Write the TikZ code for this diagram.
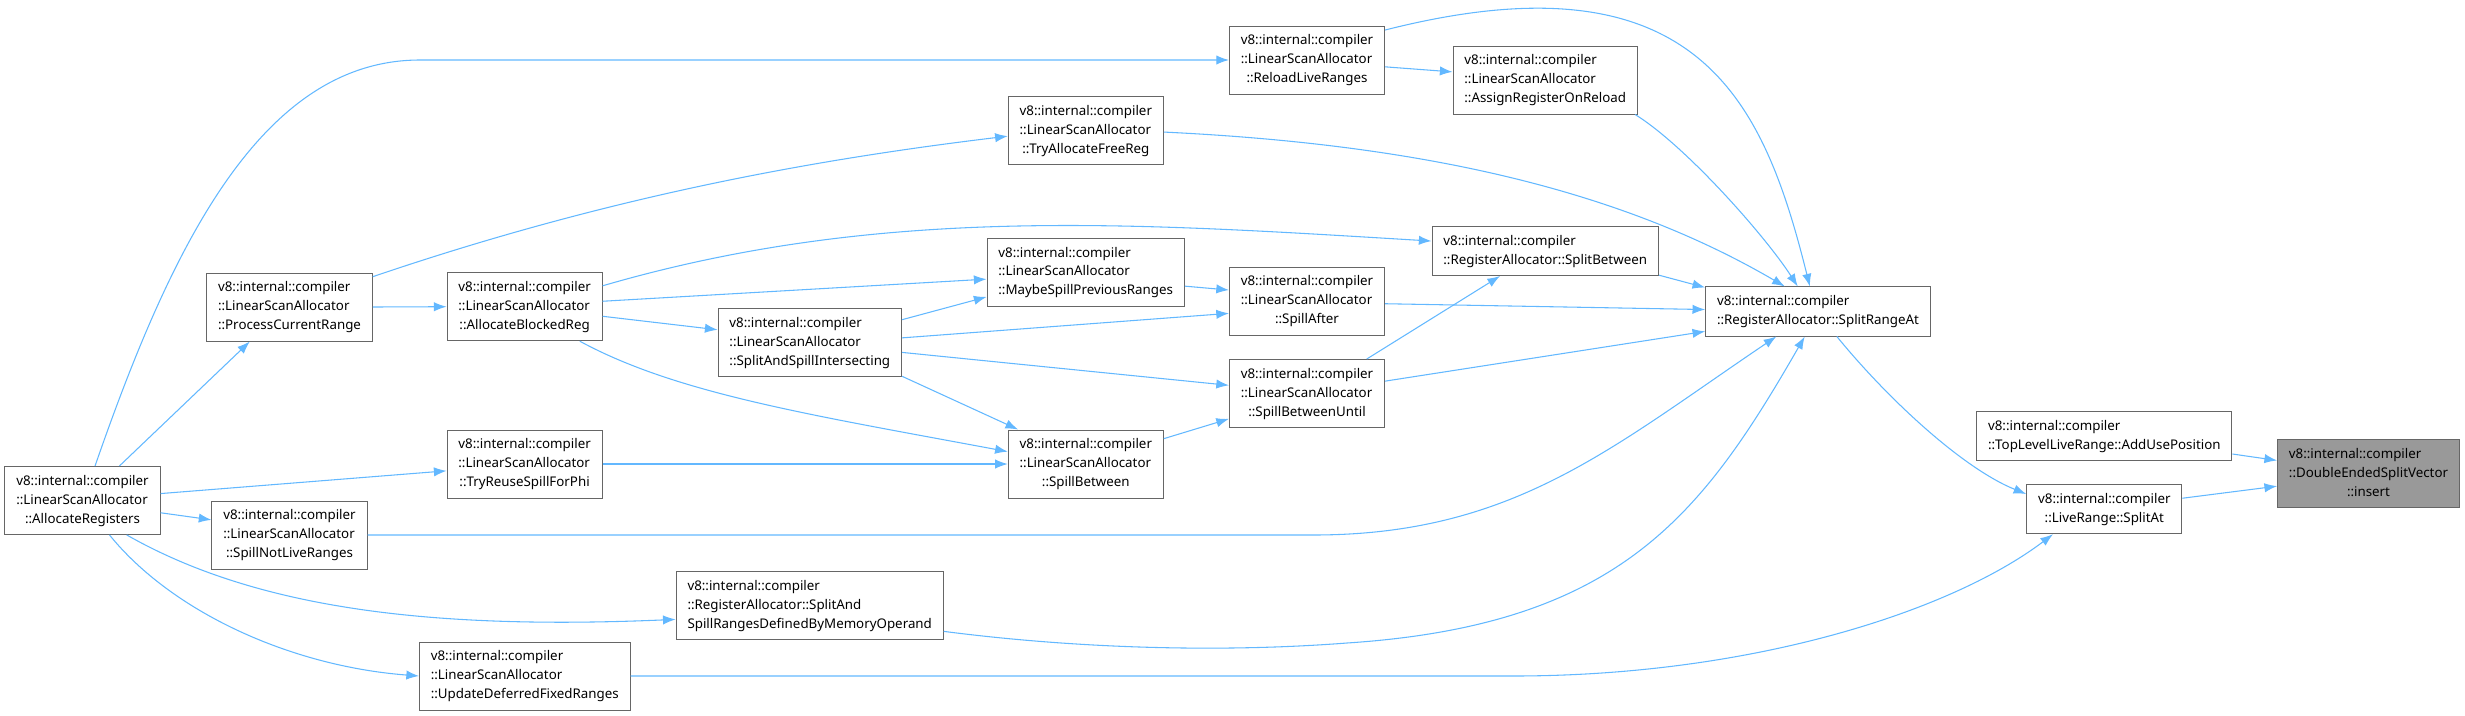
\documentclass[tikz,border=0pt]{standalone}
\usepackage{fontspec}
\setmainfont{Noto Sans}
\usetikzlibrary{arrows.meta}

\definecolor{edgeblue}{HTML}{63B8FF}
\definecolor{boxgray}{HTML}{666666}
\definecolor{focusgray}{HTML}{999999}

% label lines: all but the last one left aligned, the last one centred
\newcommand{\fnthree}[3]{\begin{tabular}{@{}l@{}}#1\\#2\\\multicolumn{1}{@{}c@{}}{#3}\end{tabular}}
\newcommand{\fntwo}[2]{\begin{tabular}{@{}l@{}}#1\\\multicolumn{1}{@{}c@{}}{#2}\end{tabular}}
\newcommand{\lsa}[1]{\fnthree{v8::internal::compiler}{::LinearScanAllocator}{#1}}

\tikzset{
    fn/.style    = {draw=boxgray, line width=0.75pt, fill=white, inner xsep=8.5pt, inner ysep=4.2pt,
                    font=\fontsize{10}{14.2}\selectfont},
    focus/.style = {fn, fill=focusgray},
    call/.style  = {-{Latex[length=9.5pt,width=7pt]}, line width=0.8pt, draw=edgeblue}
}

\begin{document}
\begin{tikzpicture}[x=0.75pt,y=-0.75pt]

    \useasboundingbox (0,0) rectangle (2465,715);

    % =================================================
    % 1. Functions
    % =================================================
    \node[fn] (AllocRegs)    at (82.5,500.4)  {\lsa{::AllocateRegisters}};
    \node[fn] (ProcRange)    at (289.5,307)   {\lsa{::ProcessCurrentRange}};
    \node[fn] (SpillNotLive) at (289.5,535)   {\lsa{::SpillNotLiveRanges}};
    \node[fn] (BlockedReg)   at (524.6,306.7) {\lsa{::AllocateBlockedReg}};
    \node[fn] (ReuseSpill)   at (524.6,464)   {\lsa{::TryReuseSpillForPhi}};
    \node[fn] (UpdDeferred)  at (524.8,676)   {\lsa{::UpdateDeferredFixedRanges}};
    \node[fn] (SplitSpill)   at (809.8,342.7) {\lsa{::SplitAndSpillIntersecting}};
    \node[fn] (SplitMemOp)   at (809.7,605.3)
      {\fnthree{v8::internal::compiler}{::RegisterAllocator::SplitAnd}{SpillRangesDefinedByMemoryOperand}};
    \node[fn] (FreeReg)      at (1085.8,130.7) {\lsa{::TryAllocateFreeReg}};
    \node[fn] (MaybeSpill)   at (1085.7,272.2) {\lsa{::MaybeSpillPreviousRanges}};
    \node[fn] (SpillBtw)     at (1085.8,464)   {\lsa{::SpillBetween}};
    \node[fn] (ReloadLive)   at (1307,60)      {\lsa{::ReloadLiveRanges}};
    \node[fn] (SpillAfter)   at (1307,301)     {\lsa{::SpillAfter}};
    \node[fn] (SpillUntil)   at (1307,393.5)   {\lsa{::SpillBetweenUntil}};
    \node[fn] (AssignReg)    at (1545.2,80)    {\lsa{::AssignRegisterOnReload}};
    \node[fn] (SplitBtw)     at (1545.2,251)
      {\fntwo{v8::internal::compiler}{::RegisterAllocator::SplitBetween}};
    \node[fn] (SplitRange)   at (1818,311.5)
      {\fntwo{v8::internal::compiler}{::RegisterAllocator::SplitRangeAt}};
    \node[fn] (AddUse)       at (2104.3,436)
      {\fntwo{v8::internal::compiler}{::TopLevelLiveRange::AddUsePosition}};
    \node[fn] (SplitAt)      at (2104.3,509.2)
      {\fntwo{v8::internal::compiler}{::LiveRange::SplitAt}};
    \node[focus] (Insert)    at (2368.5,473.3)
      {\fnthree{v8::internal::compiler}{::DoubleEndedSplitVector}{::insert}};

    % =================================================
    % 2. Calls
    % =================================================
    % AllocateRegisters
    \draw[call] (AllocRegs.70) .. controls (170,250) and (260,60) .. (420,60) -- (ReloadLive.west);
    \draw[call] (AllocRegs.43) -- (ProcRange.-139);
    \draw[call] (AllocRegs.5) -- (ReuseSpill.185);
    \draw[call] (AllocRegs.-9) -- (SpillNotLive.169);
    \draw[call] (AllocRegs.-38) .. controls (255,608) and (428,630) .. (SplitMemOp.186);
    \draw[call] (AllocRegs.-52) .. controls (171,611) and (289,666) .. (UpdDeferred.west);

    % ProcessCurrentRange
    \draw[call] (ProcRange.20) .. controls (607,197) and (810,160) .. (FreeReg.184);
    \draw[call] (ProcRange.east) -- (BlockedReg.west);

    % AllocateBlockedReg
    \draw[call] (BlockedReg.15) .. controls (880,205) and (1132,223) .. (SplitBtw.175);
    \draw[call] (BlockedReg.4) -- (MaybeSpill.184);
    \draw[call] (BlockedReg.-7) -- (SplitSpill.172);
    \draw[call] (BlockedReg.-32) .. controls (677,394) and (812,415) .. (SpillBtw.171);

    \draw[call] (ReuseSpill.east) -- (SpillBtw.west);

    % SplitAndSpillIntersecting
    \draw[call] (SplitSpill.14) -- (MaybeSpill.194);
    \draw[call] (SplitSpill.3) -- (SpillAfter.189);
    \draw[call] (SplitSpill.-6) -- (SpillUntil.174);
    \draw[call] (SplitSpill.-20) -- (SpillBtw.153);

    \draw[call] (MaybeSpill.-8) -- (SpillAfter.172);
    \draw[call] (SpillBtw.18) -- (SpillUntil.198);

    % into SplitBetween / SplitRangeAt
    \draw[call] (SpillUntil.30) -- (SplitBtw.-151);
    \draw[call] (SpillUntil.9) -- (SplitRange.190);
    \draw[call] (SpillAfter.-2) -- (SplitRange.179);
    \draw[call] (SplitBtw.-12) -- (SplitRange.168);
    \draw[call] (FreeReg.-1) .. controls (1413,144) and (1615,187) .. (SplitRange.143);
    \draw[call] (ReloadLive.-5) -- (AssignReg.175);
    \draw[call] (ReloadLive.21) .. controls (1700,-50) and (1764,103) .. (SplitRange.108);
    \draw[call] (AssignReg.-21) .. controls (1686,146) and (1766,237) .. (SplitRange.129);
    \draw[call] (SpillNotLive.east) -- (1313,535)
      .. controls (1513,535) and (1611,448) .. (SplitRange.-149);
    \draw[call] (SplitMemOp.-11) .. controls (1072,648) and (1217,653) .. (1347,643)
      .. controls (1620,625) and (1702,515) .. (SplitRange.-118);

    % into SplitAt / insert
    \draw[call] (UpdDeferred.east) -- (1513,676)
      .. controls (1750,676) and (1950,612) .. (SplitAt.-154);
    \draw[call] (SplitRange.-53) .. controls (1887,398) and (1962,468) .. (SplitAt.169);
    \draw[call] (AddUse.-8) -- (Insert.172);
    \draw[call] (SplitAt.8) -- (Insert.188);

\end{tikzpicture}
\end{document}
